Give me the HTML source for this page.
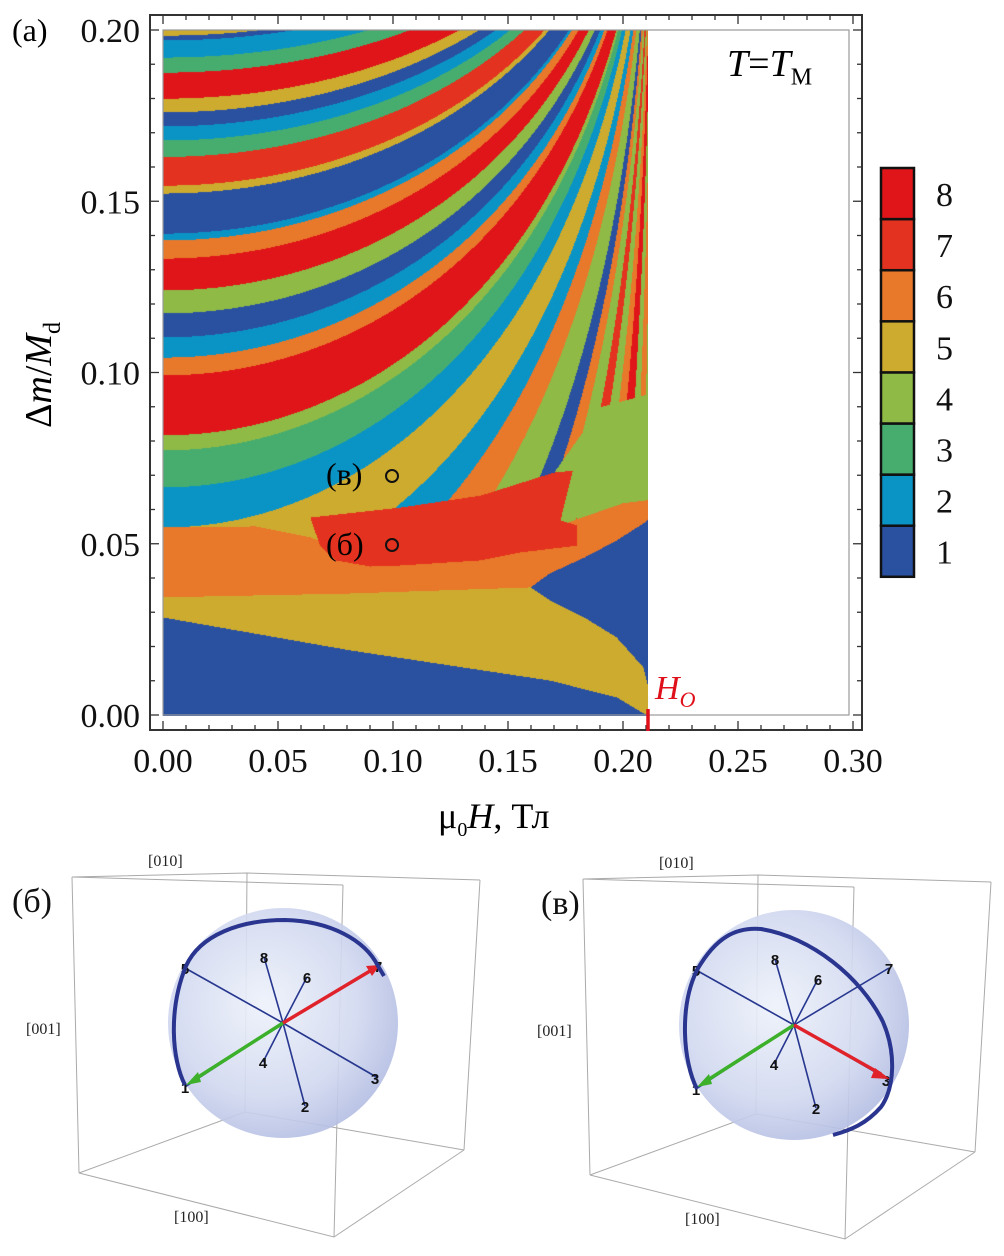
<!DOCTYPE html>
<html><head><meta charset="utf-8">
<style>
html,body{margin:0;padding:0;background:#fff;}
body{width:1004px;height:1256px;position:relative;overflow:hidden;font-family:"Liberation Serif",serif;}
svg{position:absolute;left:0;top:0;}
canvas{position:absolute;}
</style></head>
<body>
<canvas id="heat" width="485" height="686" style="left:163px;top:30px;"></canvas>
<svg id="main" width="1004" height="1256" viewBox="0 0 1004 1256" font-family="Liberation Serif, serif"></svg>
<script>
// ---- chart data ----
const colorIndexColors = ["#2a50a0","#0a94c6","#47ad6e","#8fba46","#cdab2f","#e8782a","#e3321f","#df1519"];
const colorbarLabels = ["1","2","3","4","5","6","7","8"];
const xTickLabels = ["0.00","0.05","0.10","0.15","0.20","0.25","0.30"];
const xTickValues = [0,0.05,0.10,0.15,0.20,0.25,0.30];
const yTickLabels = ["0.00","0.05","0.10","0.15","0.20"];
const yTickValues = [0,0.05,0.10,0.15,0.20];
// stripe bands read along left edge (upper dm bound) and their state index
const bandTop = [0.2,0.1985,0.1971,0.1921,0.1877,0.1801,0.1761,0.1720,0.1679,0.1631,0.1547,0.1524,0.1407,0.1387,0.1334,0.1241,0.1174,0.1104,0.1045,0.0993,0.0818,0.0774,0.0666,0.0549,0.035,0.02,0.0,-0.03,-0.05,-0.07,-0.1,-0.13,-0.17,-0.22,-0.3,-0.4,-0.6];
const bandState = [5,1,2,3,8,5,1,2,3,7,5,1,2,6,8,4,1,2,6,8,4,3,2,5,2,6,4,1,6,4,7,4,6,8,4,6,4];
// lower-region boundaries (h, dm)
const blueBottomH = [0,0.0813,0.168,0.197,0.2087,0.212];
const blueBottomDm = [0.0286,0.019,0.0102,0.0053,0.0006,0];
const yellowTopH = [0,0.08,0.1596];
const yellowTopDm = [0.0345,0.0356,0.0374];
const triLowH = [0.1596,0.168,0.183,0.197,0.2087,0.212];
const triLowDm = [0.0374,0.0336,0.0286,0.0228,0.014,0.005];
const triUpH = [0.1596,0.168,0.183,0.197,0.2087,0.212];
const triUpDm = [0.0374,0.0415,0.0461,0.0511,0.0561,0.058];
const orangeTopH = [0,0.04,0.064,0.09,0.13,0.17,0.2,0.212];
const orangeTopDm = [0.0549,0.0552,0.052,0.045,0.047,0.055,0.062,0.063];
const redPolyH = [0.0639,0.103,0.138,0.1696,0.178,0.1726,0.18,0.18,0.155,0.138,0.103,0.09,0.0748,0.068];
const redPolyDm = [0.0578,0.0607,0.0642,0.0709,0.0715,0.0569,0.0555,0.0496,0.0476,0.0453,0.0438,0.0435,0.0453,0.0496];
const greenPolyH = [0.17,0.19,0.212,0.212,0.19,0.18,0.177];
const greenPolyDm = [0.071,0.09,0.094,0.058,0.057,0.0555,0.07];

// ---- axes ----
const X0=163, XS=2300, Y0=715, YS=3425;
const xs = h => X0 + XS*h;
const ys = d => Y0 - YS*d;

function interp(H,D,h){
  if(h<=H[0]) return D[0];
  for(let i=1;i<H.length;i++){ if(h<=H[i]){const t=(h-H[i-1])/(H[i]-H[i-1]);return D[i-1]+t*(D[i]-D[i-1]);} }
  return D[D.length-1];
}
function inPoly(PH,PD,h,d){
  let c=false;
  for(let i=0,j=PH.length-1;i<PH.length;j=i++){
    if(((PD[i]>d)!==(PD[j]>d)) && (h < (PH[j]-PH[i])*(d-PD[i])/(PD[j]-PD[i])+PH[i])) c=!c;
  }
  return c;
}
function stripeState(a){
  for(let i=0;i<bandTop.length;i++){
    const lo = i+1<bandTop.length?bandTop[i+1]:-99;
    if(a<=bandTop[i] && a>lo) return bandState[i];
  }
  return a>bandTop[0]?bandState[0]:4;
}
function hexRgb(c){return [parseInt(c.substr(1,2),16),parseInt(c.substr(3,2),16),parseInt(c.substr(5,2),16)];}
const rgb = colorIndexColors.map(hexRgb);

(function(){
  const cv=document.getElementById('heat'); const ctx=cv.getContext('2d');
  const W=cv.width,Hh=cv.height; const img=ctx.createImageData(W,Hh);
  const F=0.3,P=0.4,HO=0.2125;
  for(let py=0;py<Hh;py++){
    const d=(Y0-(30+py))/YS;
    for(let px=0;px<W;px++){
      const h=(163+px-X0)/XS;
      let s;
      if(d < interp(blueBottomH,blueBottomDm,h)) s=1;
      else if(h>=0.1596 && d<interp(triUpH,triUpDm,h) && d>interp(triLowH,triLowDm,h)) s=1;
      else if(h<0.1596 && d<interp(yellowTopH,yellowTopDm,h)) s=5;
      else if(h>=0.1596 && d<=interp(triLowH,triLowDm,h)) s=5;
      else if(inPoly(redPolyH,redPolyDm,h,d)) s=7;
      else if(d<interp(orangeTopH,orangeTopDm,h)) s=6;
      else if(inPoly(greenPolyH,greenPolyDm,h,d)) s=4;
      else {
        const r=Math.min(h/HO,0.9995);
        const g=Math.pow(1-r*r,P);
        const a=F-(F-d)/g;
        s=stripeState(a);
      }
      const c=rgb[s-1]; const k=(py*W+px)*4;
      img.data[k]=c[0];img.data[k+1]=c[1];img.data[k+2]=c[2];img.data[k+3]=255;
    }
  }
  ctx.putImageData(img,0,0);
})();

// ---- SVG frame, ticks, labels ----
const NS="http://www.w3.org/2000/svg";
const svg=document.getElementById('main');
function mk(tag,attrs,parent){const e=document.createElementNS(NS,tag);for(const k in attrs)e.setAttribute(k,attrs[k]);(parent||svg).appendChild(e);return e;}

const frame=mk('rect',{x:150,y:15,width:712,height:715,fill:'none',stroke:'#333','stroke-width':2});


const inner=mk('rect',{x:163,y:30,width:686,height:685,fill:'none',stroke:'#999','stroke-width':1.2});



for(let i=0;i<=30;i++){
  const x=xs(i/100), L=(i%5===0)?9:5;
  const t1=mk('line',{x1:x,y1:730,x2:x,y2:730-L,stroke:'#333','stroke-width':1.3});
  
  
  const t2=mk('line',{x1:x,y1:15,x2:x,y2:15+L,stroke:'#333','stroke-width':1.3});
  
  
}
for(let i=0;i<=20;i++){
  const y=ys(i/100), L=(i%5===0)?9:5;
  const t1=mk('line',{x1:150,y1:y,x2:150+L,y2:y,stroke:'#333','stroke-width':1.3});
  
  
  const t2=mk('line',{x1:862,y1:y,x2:862-L,y2:y,stroke:'#333','stroke-width':1.3});
  
  
}
xTickLabels.forEach((lab,i)=>{
  const t=mk('text',{x:xs(xTickValues[i]),y:772,'font-size':34,'text-anchor':'middle',fill:'#111'});
  t.textContent=lab;
  
  
});
yTickLabels.forEach((lab,i)=>{
  const t=mk('text',{x:140,y:ys(yTickValues[i])+12,'font-size':34,'text-anchor':'end',fill:'#111'});
  t.textContent=lab;
  
  
});
const ho=mk('line',{x1:648,y1:709,x2:648,y2:731,stroke:'#e0101a','stroke-width':3.5});



colorbarLabels.forEach((lab,i)=>{
  const top=168+(7-i)*51.1;
  const r=mk('rect',{x:881,y:top,width:33,height:51.1,fill:colorIndexColors[i],stroke:'#111','stroke-width':2.5});
  
  
  const t=mk('text',{x:936,y:top+38,'font-size':34,fill:'#111'});
  t.textContent=lab;
  
  
});
</script>

<div style="position:absolute;left:12px;top:12px;font-size:32px;">(a)</div>
<div style="position:absolute;left:42px;top:375px;transform:translate(-50%,-50%) rotate(-90deg);font-size:38px;white-space:nowrap;">Δ<i>m</i>/<i>M</i><sub style="font-size:24px;">d</sub></div>
<div style="position:absolute;left:438px;top:795px;font-size:36px;white-space:nowrap;">μ<sub style="font-size:20px;">0</sub><i>H</i>, Тл</div>
<div style="position:absolute;left:727px;top:42px;font-size:38px;white-space:nowrap;"><i>T</i>=<i>T</i><sub style="font-size:24px;">M</sub></div>
<div style="position:absolute;left:655px;top:670px;font-size:34px;color:#e0101a;font-style:italic;white-space:nowrap;">H<sub style="font-size:22px;">O</sub></div>
<div style="position:absolute;left:326px;top:456px;font-size:32px;white-space:nowrap;">(в)</div>
<div style="position:absolute;left:326px;top:526px;font-size:32px;white-space:nowrap;">(б)</div>
<svg width="1004" height="1256" style="pointer-events:none">
 <circle cx="392" cy="476" r="6" fill="none" stroke="#111" stroke-width="2"/>
 <circle cx="392" cy="545" r="6" fill="none" stroke="#111" stroke-width="2"/>
</svg>

<svg width="1004" height="1256" viewBox="0 0 1004 1256" style="font-family:'Liberation Sans',sans-serif">
 <defs>
  <radialGradient id="sph" cx="0.42" cy="0.42" r="0.62">
   <stop offset="0" stop-color="#eef2fb"/>
   <stop offset="0.65" stop-color="#d2d9f0"/>
   <stop offset="1" stop-color="#b3bde3"/>
  </radialGradient>
  <g id="box">
   <g fill="none" stroke="#aaa" stroke-width="1">
    <polyline points="72,877 247,873 480,880"/>
    <line x1="72" y1="877" x2="343" y2="885"/>
    <line x1="72" y1="877" x2="79" y2="1173"/>
    <line x1="247" y1="873" x2="245" y2="1112"/>
    <line x1="343" y1="885" x2="334" y2="1237"/>
    <line x1="480" y1="880" x2="464" y2="1150"/>
    <polyline points="79,1173 334,1237 464,1150"/>
    <line x1="245" y1="1112" x2="79" y2="1173"/>
    <line x1="245" y1="1112" x2="464" y2="1150"/>
   </g>
   <circle cx="283" cy="1023" r="115" fill="url(#sph)" opacity="0.9"/>
   <g stroke="#27378f" stroke-width="1.6">
    <line x1="283" y1="1023" x2="185" y2="968"/><line x1="283" y1="1023" x2="378" y2="1078"/>
    <line x1="283" y1="1023" x2="264" y2="957"/><line x1="283" y1="1023" x2="305" y2="1106"/>
    <line x1="283" y1="1023" x2="307" y2="977"/><line x1="283" y1="1023" x2="263" y2="1062"/>
    <line x1="283" y1="1023" x2="378" y2="966"/><line x1="283" y1="1023" x2="185" y2="1087"/>
   </g>
   <g font-size="15" font-weight="bold" fill="#111" text-anchor="middle">
    <text x="185" y="974">5</text><text x="264" y="963">8</text><text x="307" y="983">6</text>
    <text x="378" y="972">7</text><text x="375" y="1084">3</text><text x="305" y="1112">2</text>
    <text x="263" y="1068">4</text><text x="185" y="1093">1</text>
   </g>
   <line x1="283" y1="1023" x2="192" y2="1081" stroke="#3cb02a" stroke-width="3.5"/>
   <polygon points="186,1085 198,1072 201,1082" fill="#3cb02a"/>
   <g font-family="Liberation Serif" font-size="16" fill="#222">
    <text x="148" y="866">[010]</text><text x="26" y="1034">[001]</text><text x="174" y="1222">[100]</text>
   </g>
  </g>
 </defs>
 <g>
  <use href="#box"/>
  <line x1="283" y1="1023" x2="370" y2="971" stroke="#e0222a" stroke-width="3.5"/>
  <polygon points="380,965 366,966 372,976" fill="#e0222a"/>
  <path d="M185,1085 C172,1060 168,1010 186,966 C200,935 240,920 285,920 C330,921 365,940 378,966 L384,976" fill="none" stroke="#2a3590" stroke-width="4"/>
  <text x="12" y="912" font-family="Liberation Serif" font-size="34" fill="#111">(б)</text>
 </g>
 <g transform="translate(511,2)">
  <use href="#box"/>
  <line x1="283" y1="1023" x2="370" y2="1072" stroke="#e0222a" stroke-width="3.5"/>
  <polygon points="379,1077 364,1066 360,1076" fill="#e0222a"/>
  <path d="M186,1087 C172,1060 168,1005 186,968 C205,935 225,925 250,927 C300,935 350,975 372,1020 C385,1050 384,1085 370,1105 C355,1122 340,1128 322,1133" fill="none" stroke="#2a3590" stroke-width="4"/>
  <text x="30" y="912" font-family="Liberation Serif" font-size="34" fill="#111">(в)</text>
 </g>
</svg>
</body></html>
